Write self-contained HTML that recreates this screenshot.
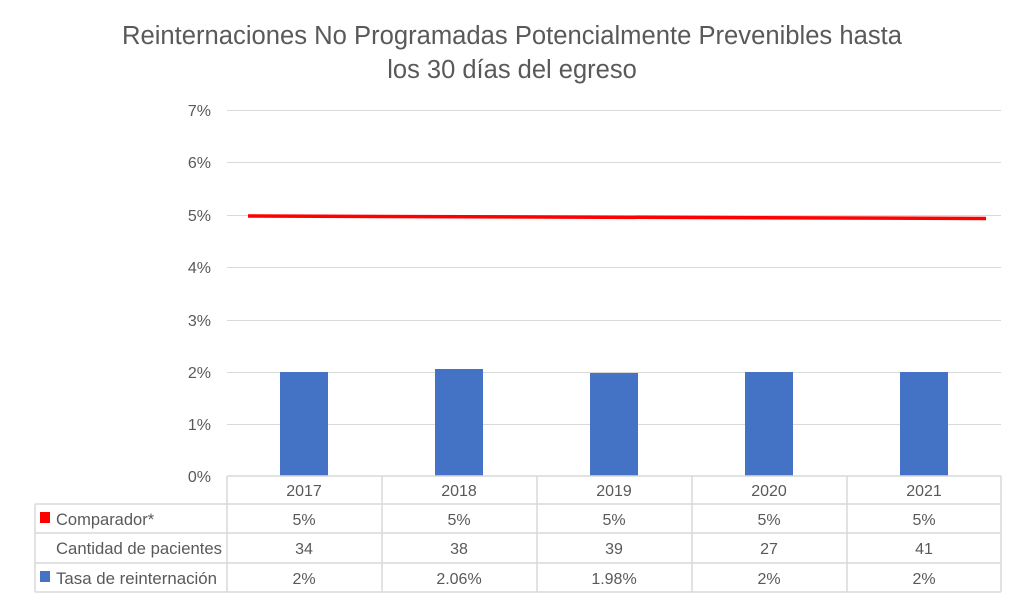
<!DOCTYPE html><html><head><style>body{margin:0;background:#fff}svg{display:block}text{font-family:"Liberation Sans",sans-serif;fill:#595959}</style></head><body>
<svg width="1024" height="602" xmlns="http://www.w3.org/2000/svg">
<text x="512" y="44" font-size="25.5" text-anchor="middle" textLength="780" lengthAdjust="spacingAndGlyphs">Reinternaciones No Programadas Potencialmente Prevenibles hasta</text>
<text x="512" y="78" font-size="25.5" text-anchor="middle">los 30 días del egreso</text>
<g stroke="#d9d9d9" stroke-width="1">
<line x1="227" x2="1001" y1="110.5" y2="110.5"/><line x1="227" x2="1001" y1="162.5" y2="162.5"/><line x1="227" x2="1001" y1="215.5" y2="215.5"/><line x1="227" x2="1001" y1="267.5" y2="267.5"/><line x1="227" x2="1001" y1="320.5" y2="320.5"/><line x1="227" x2="1001" y1="372.5" y2="372.5"/><line x1="227" x2="1001" y1="424.5" y2="424.5"/>
</g>
<g font-size="16" text-anchor="end">
<text x="211" y="116">7%</text><text x="211" y="168">6%</text><text x="211" y="221">5%</text><text x="211" y="273">4%</text><text x="211" y="326">3%</text><text x="211" y="378">2%</text><text x="211" y="430">1%</text><text x="211" y="482">0%</text>
</g>
<g fill="#4472c4">
<rect x="280" y="372" width="48" height="104"/><rect x="435" y="369" width="48" height="107"/><rect x="590" y="373" width="48" height="103"/><rect x="745" y="372" width="48" height="104"/><rect x="900" y="372" width="48" height="104"/>
</g>
<line x1="248" y1="216" x2="986" y2="218.5" stroke="#ff0000" stroke-width="3.5"/>
<g stroke="#d9d9d9" stroke-width="1.5" fill="none">
<line x1="227" y1="476" x2="1001" y2="476"/>
<line x1="35" y1="504" x2="1001" y2="504"/>
<line x1="35" y1="533" x2="1001" y2="533"/>
<line x1="35" y1="563" x2="1001" y2="563"/>
<line x1="35" y1="592" x2="1001" y2="592"/>
<line x1="35" y1="504" x2="35" y2="592"/>
<line x1="227" y1="476" x2="227" y2="592"/><line x1="382" y1="476" x2="382" y2="592"/><line x1="537" y1="476" x2="537" y2="592"/><line x1="692" y1="476" x2="692" y2="592"/><line x1="847" y1="476" x2="847" y2="592"/><line x1="1001" y1="476" x2="1001" y2="592"/>
</g>
<rect x="40" y="512" width="10" height="11" fill="#ff0000"/>
<rect x="40" y="571" width="10" height="11" fill="#4472c4"/>
<g font-size="16.5">
<text x="56" y="525">Comparador*</text><text x="56" y="554" textLength="166" lengthAdjust="spacingAndGlyphs">Cantidad de pacientes</text><text x="56" y="584" textLength="161" lengthAdjust="spacingAndGlyphs">Tasa de reinternación</text>
</g>
<g font-size="16" text-anchor="middle">
<text x="304" y="496">2017</text><text x="459" y="496">2018</text><text x="614" y="496">2019</text><text x="769" y="496">2020</text><text x="924" y="496">2021</text>
<text x="304" y="525">5%</text><text x="459" y="525">5%</text><text x="614" y="525">5%</text><text x="769" y="525">5%</text><text x="924" y="525">5%</text>
<text x="304" y="554">34</text><text x="459" y="554">38</text><text x="614" y="554">39</text><text x="769" y="554">27</text><text x="924" y="554">41</text>
<text x="304" y="584">2%</text><text x="459" y="584">2.06%</text><text x="614" y="584">1.98%</text><text x="769" y="584">2%</text><text x="924" y="584">2%</text>
</g>
</svg>
</body></html>
